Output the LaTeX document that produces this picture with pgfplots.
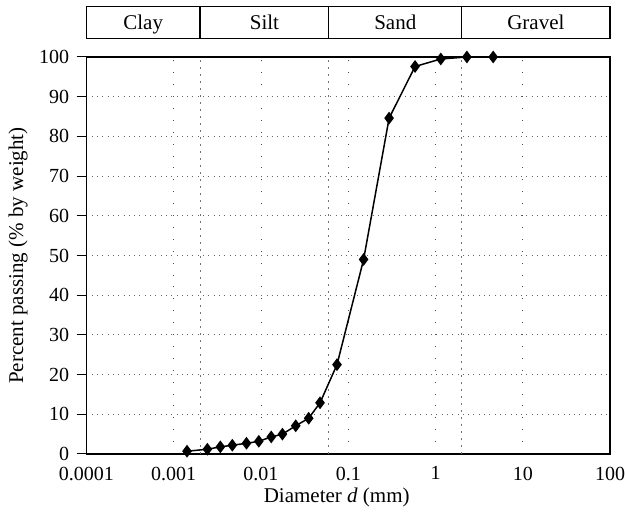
\documentclass[border=0pt]{standalone}
\usepackage{pgfplots}
\pgfplotsset{compat=1.18}
\usepackage{fontspec}
\setmainfont{Liberation Serif}
\begin{document}
\fontsize{10.5}{12.5}\selectfont
\begin{tikzpicture}
\useasboundingbox (-43.25pt,-31.5pt) rectangle (269.25pt,227pt);
\begin{axis}[
  at={(0,0)}, anchor=south west,
  scale only axis, width=261.75pt, height=198.5pt,
  xmode=log, log basis x=10,
  xmin=1e-4, xmax=100, ymin=0, ymax=100,
  xtick={1e-4,1e-3,1e-2,1e-1,1,10,100},
  xticklabels={0.0001,0.001,0.01,0.1,1,10,100},
  ytick={0,10,...,100},
  /pgf/number format/assume math mode=true,
  x tick style={draw=none}, minor x tick style={draw=none},
  ytick pos=left, y tick style={black, line width=0.5pt},
  tick align=outside, major tick length=5pt,
  tick label style={font=\fontsize{10}{12}\selectfont},
  xticklabel style={yshift=2.3pt},
  xmajorgrids, xminorgrids, ymajorgrids,
  x grid style={black!70, line width=0.4pt, dash pattern=on 0.45pt off 5.5pt},
  minor x grid style={black!70, line width=0.4pt, dash pattern=on 0.45pt off 5.5pt},
  y grid style={black!60, line width=0.4pt, dash pattern=on 0.45pt off 2.2pt},
  axis line style={black, line width=0.6pt},
  every axis y label/.style={at={(rel axis cs:0,0.5)}, xshift=-34.25pt, rotate=90, anchor=center},
  every axis x label/.style={at={(rel axis cs:0.478,0)}, yshift=-21.5pt, anchor=center},
  xlabel={Diameter \textit{d} (mm)},
  ylabel={Percent passing (\% by weight)},
  clip=false,
]
% class boundaries
\draw[black!55, line width=0.4pt, dash pattern=on 1pt off 2.5pt] (axis cs:0.002,0) -- (axis cs:0.002,100);
\draw[black!55, line width=0.4pt, dash pattern=on 1pt off 2.5pt] (axis cs:0.06,0) -- (axis cs:0.06,100);
\draw[black!55, line width=0.4pt, dash pattern=on 1pt off 2.5pt] (axis cs:2,0) -- (axis cs:2,100);
% top classification bar
\draw[black, line width=0.6pt] (axis cs:1e-4,104.6) rectangle (axis cs:100,112.7);
\draw[black, line width=0.6pt] (axis cs:0.002,104.6) -- (axis cs:0.002,112.7);
\draw[black, line width=0.6pt] (axis cs:0.06,104.6) -- (axis cs:0.06,112.7);
\draw[black, line width=0.6pt] (axis cs:2,104.6) -- (axis cs:2,112.7);
\node[anchor=base] at (axis cs:0.000447,107.0) {Clay};
\node[anchor=base] at (axis cs:0.01095,107.0) {Silt};
\node[anchor=base] at (axis cs:0.3464,107.0) {Sand};
\node[anchor=base] at (axis cs:14.14,107.0) {Gravel};
\addplot[black, line width=0.75pt, mark=diamond*, mark size=2.6pt, mark options={solid, fill=black}] coordinates {
(0.00142,0.7)
(0.00243,1.2)
(0.00342,1.8)
(0.00469,2.2)
(0.00682,2.7)
(0.00944,3.2)
(0.0131,4.3)
(0.0176,5.0)
(0.025,7.1)
(0.0352,9.0)
(0.0475,12.9)
(0.0743,22.5)
(0.150,49.0)
(0.294,84.6)
(0.583,97.6)
(1.15,99.5)
(2.29,100)
(4.58,100)
};
\end{axis}
\end{tikzpicture}
\end{document}
